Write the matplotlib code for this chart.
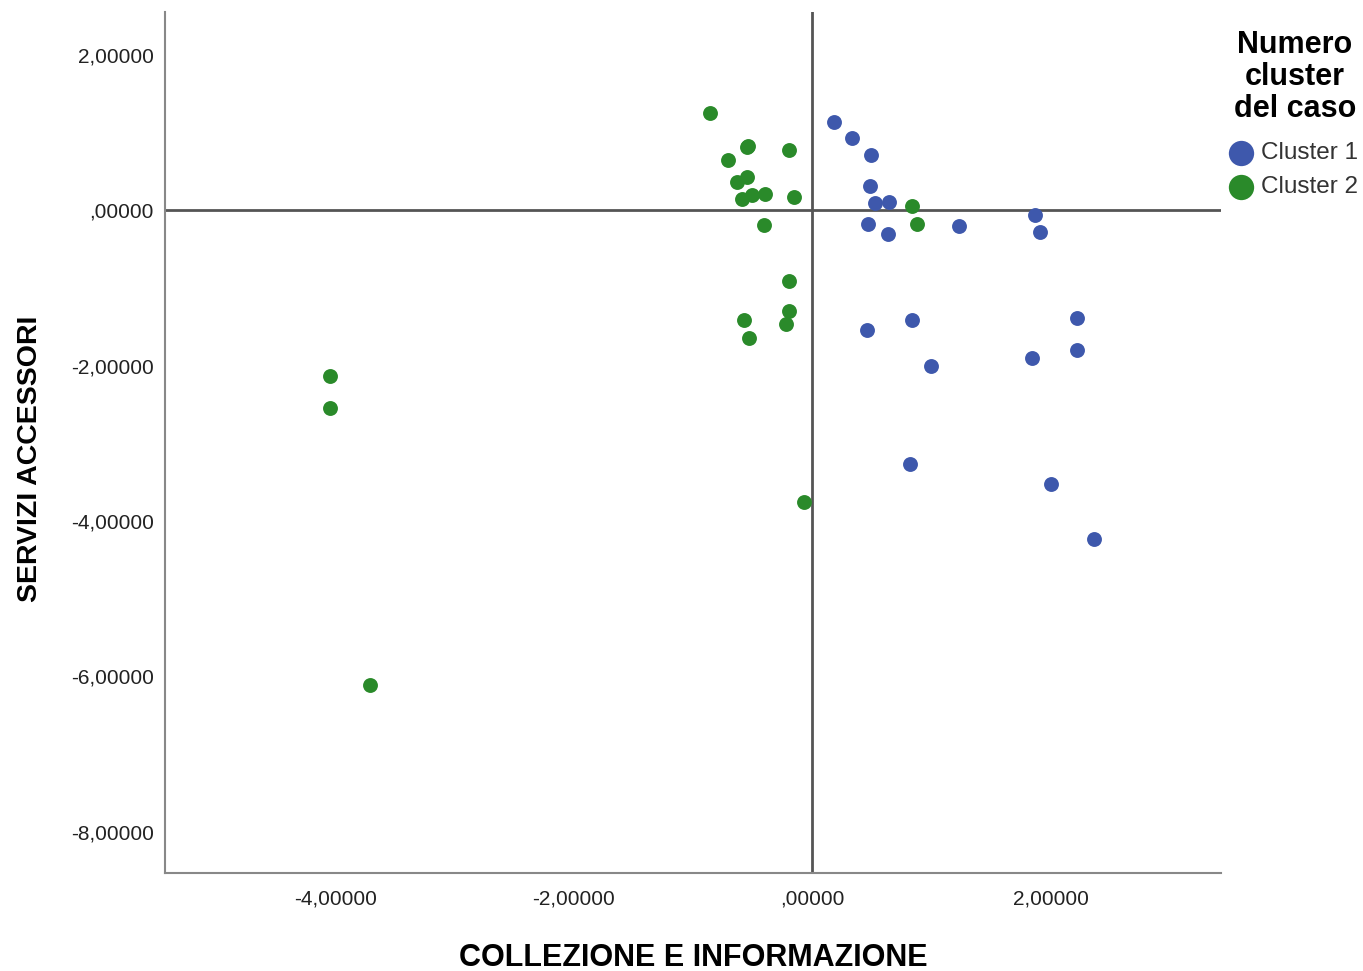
import matplotlib.pyplot as plt
from matplotlib.ticker import FuncFormatter

plt.rcParams['font.family'] = ['Liberation Sans', 'DejaVu Sans']

# cluster 1 (blue)
c1_x = [0.180, 0.333, 0.490, 0.484, 0.526, 0.643, 0.465, 0.635, 1.228, 1.864,
        1.912, 0.461, 0.839, 0.996, 1.846, 2.223, 2.221, 2.003, 2.361, 0.820]
c1_y = [1.139, 0.933, 0.710, 0.306, 0.093, 0.100, -0.183, -0.302, -0.199, -0.064,
        -0.281, -1.538, -1.413, -2.001, -1.906, -1.393, -1.795, -3.520, -4.232, -3.263]

# cluster 2 (green)
c2_x = [-0.858, -0.550, -0.540, -0.193, -0.705, -0.550, -0.629, -0.397, -0.508, -0.592,
        -0.154, -0.403, -0.198, -0.195, -0.221, -0.573, -0.531, 0.834, 0.876, -0.070,
        -4.046, -4.046, -3.711]
c2_y = [1.251, 0.813, 0.830, 0.779, 0.641, 0.427, 0.358, 0.212, 0.199, 0.148,
        0.170, -0.190, -0.911, -1.293, -1.461, -1.418, -1.645, 0.058, -0.174, -3.752,
        -2.139, -2.546, -6.107]

labels = ['Cluster 1', 'Cluster 2']
colors = ['#3e58ac', '#2a8a2a']

xticks = [-4, -2, 0, 2]
yticks = [2, 0, -2, -4, -6, -8]

fig = plt.figure(figsize=(13.63, 9.71), dpi=100)
ax = fig.add_axes([0.121, 0.101, 0.775, 0.887])

ax.axhline(0, color='#555555', lw=2, zorder=1)
ax.axvline(0, color='#555555', lw=2, zorder=1)

ax.scatter(c1_x, c1_y, s=115, color=colors[0], label=labels[0], zorder=3, linewidths=0)
ax.scatter(c2_x, c2_y, s=115, color=colors[1], label=labels[1], zorder=3, linewidths=0)

ax.set_xlim(-5.43, 3.43)
ax.set_ylim(-8.53, 2.555)

def fmt(v, pos):
    s = '%.5f' % v
    s = s.replace('.', ',')
    if s.startswith('0,'):
        s = s[1:]
    if s.startswith('-0,'):
        s = s[2:]
    return s

ax.set_xticks(xticks)
ax.set_yticks(yticks)
ax.xaxis.set_major_formatter(FuncFormatter(fmt))
ax.yaxis.set_major_formatter(FuncFormatter(fmt))
ax.tick_params(length=0, labelsize=15, colors='#222222')
ax.tick_params(axis='y', pad=8)
ax.tick_params(axis='x', pad=12)

for side in ['top', 'right']:
    ax.spines[side].set_visible(False)
for side in ['left', 'bottom']:
    ax.spines[side].set_color('#888888')
    ax.spines[side].set_linewidth(1.5)

ax.set_xlabel('COLLEZIONE E INFORMAZIONE', fontsize=22, fontweight='bold', labelpad=25)
ax.set_ylabel('SERVIZI ACCESSORI', fontsize=20.5, fontweight='bold')
ax.yaxis.set_label_coords(-0.115, 0.481)

# legend title drawn separately so its spacing can follow the reference
fig.text(0.950, 0.9208, 'Numero\ncluster\ndel caso', fontsize=22, fontweight='bold',
         ha='center', va='center', multialignment='center', linespacing=1.1)

leg = ax.legend(loc='center left', bbox_to_anchor=(0.9017, 0.8249),
                bbox_transform=fig.transFigure, frameon=False, fontsize=17.5,
                markerscale=1.7, handlelength=1.0, handletextpad=0.3,
                labelspacing=0.5, borderpad=0, borderaxespad=0)
for t in leg.get_texts():
    t.set_color('#333333')

fig.savefig('out.png', dpi=100)
